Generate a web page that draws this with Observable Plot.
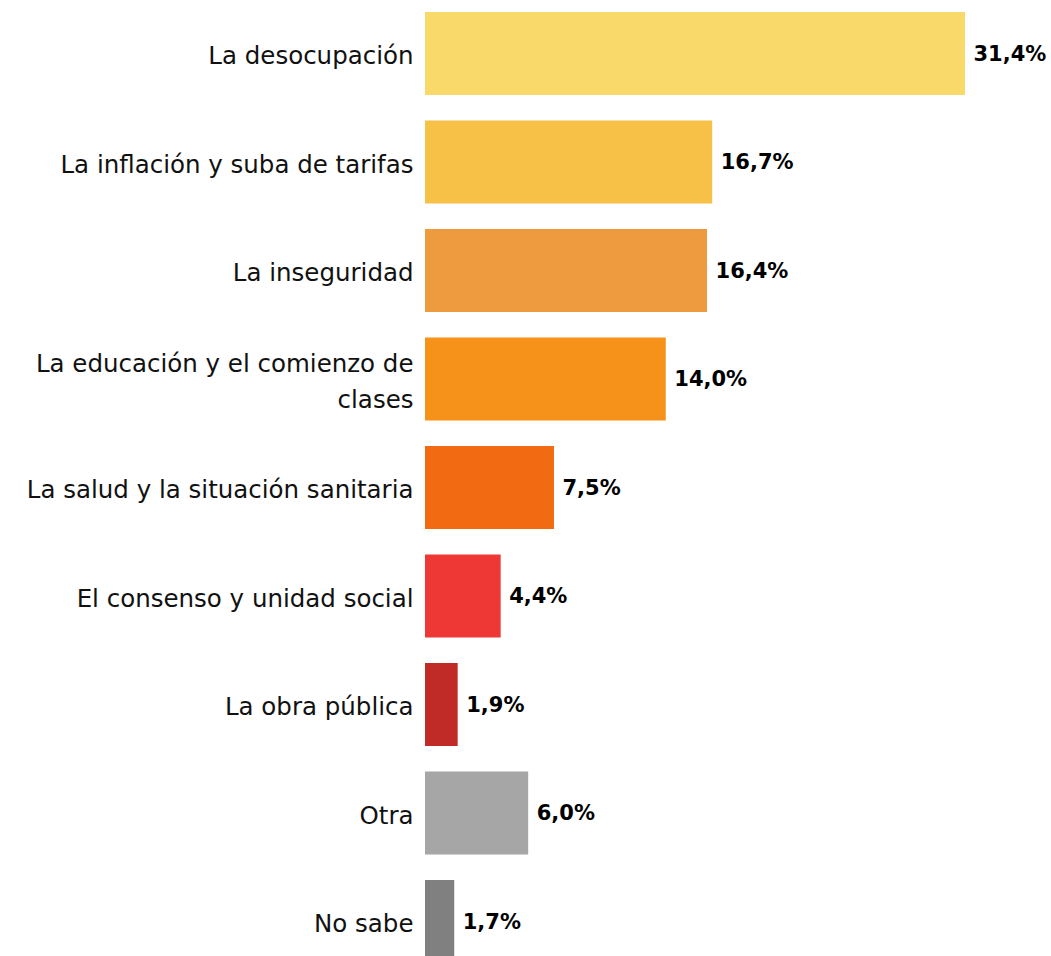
<!DOCTYPE html>
<html>
<head>
<meta charset="utf-8">
<script src="https://cdn.jsdelivr.net/npm/d3@7"></script>
<script src="https://cdn.jsdelivr.net/npm/@observablehq/plot@0.6"></script>
<style>
  html, body { margin: 0; padding: 0; background: #fff; }
  #chart svg { display: block; }
</style>
</head>
<body>
<div id="chart"></div>
<script>
const categories = [
  "La desocupación",
  "La inflación y suba de tarifas",
  "La inseguridad",
  "La educación y el comienzo de\nclases",
  "La salud y la situación sanitaria",
  "El consenso y unidad social",
  "La obra pública",
  "Otra",
  "No sabe"
];
const values = [31.4, 16.7, 16.4, 14.0, 7.5, 4.4, 1.9, 6.0, 1.7];
const valueLabels = ["31,4%", "16,7%", "16,4%", "14,0%", "7,5%", "4,4%", "1,9%", "6,0%", "1,7%"];
const colors = ["#F9D96A", "#F7C046", "#EE9A3E", "#F69219", "#F26A12", "#EE3835", "#C12B27", "#A6A6A6", "#808080"];

const data = categories.map((c, i) => ({cat: c, value: values[i], label: valueLabels[i], color: colors[i]}));

const chart = Plot.plot({
  width: 1051,
  height: 956,
  marginLeft: 425,
  marginRight: 86,
  marginTop: 0,
  marginBottom: 0,
  style: {fontFamily: "'DejaVu Sans', sans-serif", background: "#fff"},
  x: {domain: [0, 31.4], axis: null},
  y: {domain: categories, range: [-0.75, 975.75], paddingInner: 0.235, paddingOuter: 0.1175, round: false, axis: null},
  marks: [
    Plot.barX(data, {y: "cat", x: "value", fill: "color"}),
    Plot.text(data, {y: "cat", x: 0, text: "cat", textAnchor: "end", dx: -12, dy: -1, fontSize: 24.5, fill: "#111", lineHeight: 1.45}),
    Plot.text(data, {y: "cat", x: "value", text: "label", textAnchor: "start", dx: 8, fontSize: 21, fontWeight: "bold", fill: "#000"})
  ]
});
document.getElementById("chart").appendChild(chart);
</script>
</body>
</html>
